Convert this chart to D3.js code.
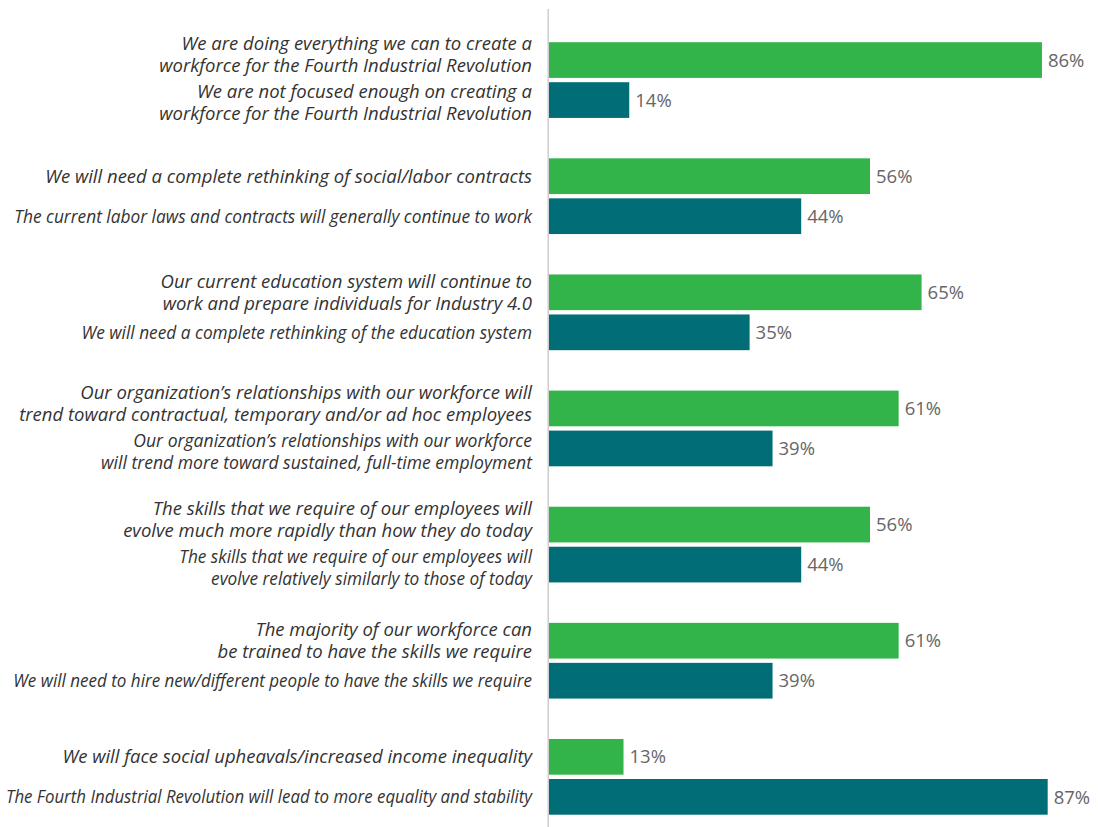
<!DOCTYPE html>
<html>
<head>
<meta charset="utf-8">
<script src="https://cdn.jsdelivr.net/npm/d3@7/dist/d3.min.js"></script>
<style>
  html, body { margin: 0; padding: 0; background: #fff; }
  svg { display: block; }
</style>
</head>
<body>
<svg id="chart" width="1098" height="827"></svg>
<script>
// ---- data ----
const groups = [0, 1, 2, 3, 4, 5, 6];
const seriesKeys = ["a", "b"];
const labelsA = [
  ["We are doing everything we can to create a", "workforce for the Fourth Industrial Revolution"],
  ["We will need a complete rethinking of social/labor contracts"],
  ["Our current education system will continue to", "work and prepare individuals for Industry 4.0"],
  ["Our organization\u2019s relationships with our workforce will", "trend toward contractual, temporary and/or ad hoc employees"],
  ["The skills that we require of our employees will", "evolve much more rapidly than how they do today"],
  ["The majority of our workforce can", "be trained to have the skills we require"],
  ["We will face social upheavals/increased income inequality"]
];
const labelsB = [
  ["We are not focused enough on creating a", "workforce for the Fourth Industrial Revolution"],
  ["The current labor laws and contracts will generally continue to work"],
  ["We will need a complete rethinking of the education system"],
  ["Our organization\u2019s relationships with our workforce", "will trend more toward sustained, full-time employment"],
  ["The skills that we require of our employees will", "evolve relatively similarly to those of today"],
  ["We will need to hire new/different people to have the skills we require"],
  ["The Fourth Industrial Revolution will lead to more equality and stability"]
];
const valuesA = [86, 56, 65, 61, 56, 61, 13];
const valuesB = [14, 44, 35, 39, 44, 39, 87];

// ---- style (horizontal text condensing seen in the original typesetting) ----
const condenseA = [1, 1, 1, 1, 1, 1, 1];
const condenseB = [1, 0.936, 0.934, 0.95, 0.93, 0.92, 0.92];

// ---- layout ----
const colors = { a: "#33b44a", b: "#006d77" };
const svg = d3.select("#chart");

const x = d3.scaleLinear().domain([0, 100]).range([549, 1122.2]);
const y = d3.scaleBand().domain(groups).range([42.2, 814.7]).paddingInner(0.348).paddingOuter(0);
const yInner = d3.scaleBand().domain(seriesKeys).range([0, y.bandwidth()]).paddingInner(0.1075);

const rows = [];
groups.forEach(g => {
  rows.push({ g, key: "a", value: valuesA[g], label: labelsA[g], cond: condenseA[g] });
  rows.push({ g, key: "b", value: valuesB[g], label: labelsB[g], cond: condenseB[g] });
});

// axis line
svg.append("line")
  .attr("x1", x(0) - 0.8).attr("x2", x(0) - 0.8)
  .attr("y1", 9).attr("y2", 827)
  .attr("stroke", "#c6c6c6").attr("stroke-width", 1.3);

// bars
svg.selectAll("rect.bar").data(rows).join("rect")
  .attr("class", "bar")
  .attr("x", x(0))
  .attr("y", d => y(d.g) + yInner(d.key))
  .attr("width", d => x(d.value) - x(0))
  .attr("height", yInner.bandwidth())
  .attr("fill", d => colors[d.key]);

// value labels
svg.selectAll("text.val").data(rows).join("text")
  .attr("class", "val")
  .attr("x", d => x(d.value) + 6)
  .attr("y", d => y(d.g) + yInner(d.key) + yInner.bandwidth() / 2)
  .attr("dy", "0.36em")
  .attr("font-family", "'Open Sans', sans-serif")
  .attr("font-size", 18.5)
  .attr("fill", "#666666")
  .text(d => d.value + "%");

// category labels
const fontSize = 18.5;
const labelRight = 532;
const lineH = 22;
const minGap = 26;
const base = fontSize * 0.35;

// compute baselines: centered on bar, then spread apart within group if crowded
rows.forEach(d => {
  const cy = y(d.g) + yInner(d.key) + yInner.bandwidth() / 2;
  const n = d.label.length;
  d.baselines = d.label.map((_, i) => cy + base + (i - (n - 1) / 2) * lineH);
});
groups.forEach(g => {
  const a = rows.find(r => r.g === g && r.key === "a");
  const b = rows.find(r => r.g === g && r.key === "b");
  const gap = b.baselines[0] - a.baselines[a.baselines.length - 1];
  if (gap < minGap) {
    const deficit = minGap - gap;
    a.baselines = a.baselines.map(v => v - deficit * 2 / 3);
    b.baselines = b.baselines.map(v => v + deficit / 3);
  }
});

const lab = svg.selectAll("text.lab").data(rows).join("text")
  .attr("class", "lab")
  .attr("text-anchor", "end")
  .attr("font-family", "'Open Sans', sans-serif")
  .attr("font-style", "italic")
  .attr("font-size", fontSize)
  .attr("fill", "#333333");

lab.each(function(d) {
  const t = d3.select(this);
  d.label.forEach((line, i) => {
    const ts = t.append("tspan")
      .attr("x", labelRight)
      .attr("y", d.baselines[i])
      .text(line);
    const avail = labelRight - 6;
    const len = ts.node().getComputedTextLength();
    const target = Math.min(len * d.cond, avail);
    if (target < len - 0.5) {
      ts.attr("textLength", target).attr("lengthAdjust", "spacingAndGlyphs");
    }
  });
});
</script>
</body>
</html>
